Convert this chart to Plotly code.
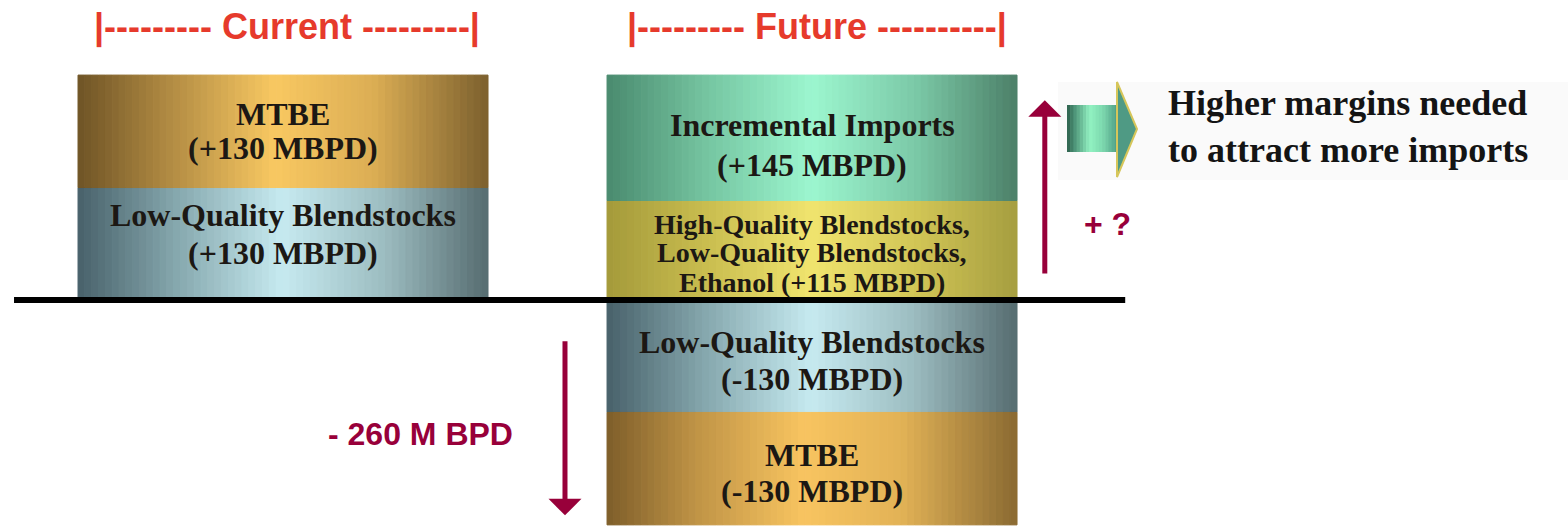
import plotly.graph_objects as go

# ---------------- data ----------------
categories = ["Current", "Future"]

# current supply, stacked upward from zero (bottom segment first)
current_values = [130, 130]
current_labels = ["Low-Quality Blendstocks<br>({:+d} MBPD)", "MTBE<br>({:+d} MBPD)"]
current_styles = ["lq", "mtbe"]

# future additions, stacked upward from zero
future_up_values = [115, 145]
future_up_labels = [
    "High-Quality Blendstocks,<br>Low-Quality Blendstocks,<br>Ethanol ({:+d} MBPD)",
    "Incremental Imports<br>({:+d} MBPD)",
]
future_up_styles = ["hq", "imports"]

# future losses, stacked downward from zero
future_down_values = [-130, -130]
future_down_labels = ["Low-Quality Blendstocks<br>({:+d} MBPD)", "MTBE<br>({:+d} MBPD)"]
future_down_styles = ["lq", "mtbe2"]

header_texts = ["|--------- Current ---------|", "|--------- Future ----------|"]
net_change_label = "- 260 M BPD"
gap_label = "+ ?"
note_text = "Higher margins needed<br>to attract more imports"

# ---------------- styling ----------------
W, H = 1568, 528
BAR_W = 0.775
N_STRIPS = 60
TEXT_DARK = "#1c1814"
MAROON = "#98003a"
HEADER_RED = "#e63a2c"

GRADIENTS = {
    "mtbe": [(0, "#6f5426"), (0.22, "#b08a42"), (0.48, "#f8c862"), (0.72, "#dcae54"), (1, "#7c602e")],
    "mtbe2": [(0, "#7e5e2a"), (0.22, "#c09446"), (0.48, "#f8c460"), (0.72, "#e2b256"), (1, "#8a6a32")],
    "lq": [(0, "#48616a"), (0.25, "#88aab0"), (0.5, "#c6eaf0"), (0.75, "#9cbcc0"), (1, "#566c70")],
    "imports": [(0, "#4a8a6e"), (0.25, "#76c6a2"), (0.5, "#9cf6cf"), (0.75, "#7ccaa8"), (1, "#4c8068")],
    "hq": [(0, "#a49a3a"), (0.25, "#cabe50"), (0.5, "#f0e46e"), (0.75, "#d2c656"), (1, "#a69e40")],
}

# per-line vertical offsets (px, downward) of segment labels from segment middle
LINE_OFFSETS = {
    ("Current", 0): [-29, 9],
    ("Current", 1): [-17, 17],
    ("Future", "up0"): [-26, 2.5, 32],
    ("Future", "up1"): [-13, 27],
    ("Future", "down0"): [-14.5, 23],
    ("Future", "down1"): [-14, 22.5],
}


def hex_to_rgb(h):
    h = h.lstrip("#")
    return tuple(int(h[i:i + 2], 16) for i in (0, 2, 4))


def interp(stops, t):
    for (p0, c0), (p1, c1) in zip(stops, stops[1:]):
        if p0 <= t <= p1:
            f = (t - p0) / (p1 - p0) if p1 > p0 else 0
            a, b = hex_to_rgb(c0), hex_to_rgb(c1)
            r = [round(a[i] + (b[i] - a[i]) * f) for i in range(3)]
            return "rgb({},{},{})".format(*r)
    return stops[-1][1]


def gradient_bar(cat, base, value, style):
    """One stacked segment drawn as thin vertical strips for a shaded fill."""
    stops = GRADIENTS[style]
    w = BAR_W / N_STRIPS
    offsets = [-BAR_W / 2 + i * w for i in range(N_STRIPS)]
    colors = [interp(stops, (i + 0.5) / N_STRIPS) for i in range(N_STRIPS)]
    return go.Bar(
        x=[cat] * N_STRIPS,
        y=[value] * N_STRIPS,
        base=[base] * N_STRIPS,
        offset=offsets,
        width=[w] * N_STRIPS,
        marker=dict(color=colors, line=dict(width=1, color=colors)),
        hoverinfo="skip",
        showlegend=False,
    )


fig = go.Figure()
annotations = []


def add_stack(cat, values, labels, styles, keys, font_sizes):
    base = 0
    for v, lab, st, key, fs in zip(values, labels, styles, keys, font_sizes):
        fig.add_trace(gradient_bar(cat, base, v, st))
        mid = base + v / 2
        lines = lab.format(v).split("<br>")
        for line, off in zip(lines, LINE_OFFSETS[key]):
            annotations.append(dict(
                x=cat, y=mid, xref="x", yref="y", yshift=-off,
                text="<b>" + line + "</b>", showarrow=False,
                xanchor="center", yanchor="middle",
                font=dict(family="Liberation Serif", size=fs, color=TEXT_DARK),
            ))
        base += v


add_stack("Current", current_values, current_labels, current_styles,
          [("Current", 0), ("Current", 1)], [32, 32])
add_stack("Future", future_up_values, future_up_labels, future_up_styles,
          [("Future", "up0"), ("Future", "up1")], [28, 32])
add_stack("Future", future_down_values, future_down_labels, future_down_styles,
          [("Future", "down0"), ("Future", "down1")], [32, 32])

# column headers
for cat, txt, dx in zip(categories, header_texts, [4, 5]):
    annotations.append(dict(
        x=cat, y=315.5, xref="x", yref="y", xshift=dx,
        text="<b>" + txt + "</b>", showarrow=False,
        xanchor="center", yanchor="middle",
        font=dict(family="Liberation Sans", size=36, color=HEADER_RED),
    ))

# change arrows
annotations.append(dict(
    x=1.440, y=231, ax=1.440, ay=29, xref="x", yref="y", axref="x", ayref="y",
    text="", showarrow=True, arrowhead=1, arrowsize=1.1, arrowwidth=5, arrowcolor=MAROON,
))
annotations.append(dict(
    x=0.533, y=-249, ax=0.533, ay=-46, xref="x", yref="y", axref="x", ayref="y",
    text="", showarrow=True, arrowhead=1, arrowsize=1.1, arrowwidth=5, arrowcolor=MAROON,
))
annotations.append(dict(
    x=1.558, y=88, xref="x", yref="y", text="<b>" + gap_label + "</b>", showarrow=False,
    xanchor="center", yanchor="middle",
    font=dict(family="Liberation Sans", size=32, color=MAROON),
))
annotations.append(dict(
    x=0.259, y=-155.5, xref="x", yref="y", text="<b>" + net_change_label + "</b>", showarrow=False,
    xanchor="center", yanchor="middle",
    font=dict(family="Liberation Sans", size=32, color=MAROON),
))

# note on the right
annotations.append(dict(
    x=1166 / W, y=1 - 126 / H, xref="paper", yref="paper",
    text="<b>" + note_text + "</b>", showarrow=False,
    xanchor="left", yanchor="middle", align="left",
    font=dict(family="Liberation Serif", size=36, color="#141414"),
))

shapes = []


def px(xp, yp):
    return xp / W, 1 - yp / H


# soft panel behind the note
x0, y0 = px(1058, 82)
x1, y1 = px(W, 180)
shapes.append(dict(type="rect", xref="paper", yref="paper", x0=x0, y0=y1, x1=x1, y1=y0,
                   fillcolor="#fafafa", line=dict(width=0), layer="below"))

# block arrow: shaded body + head
body_stops = [(0, "#2c5e4a"), (0.15, "#4e9478"), (0.45, "#92f2c2"), (0.7, "#7cd8ae"), (1, "#4e9c84")]
n_body = 16
bx0, bx1, by0, by1 = 1067, 1118, 105, 152
for i in range(n_body):
    xa = bx0 + (bx1 - bx0) * i / n_body
    xb = bx0 + (bx1 - bx0) * (i + 1) / n_body + 0.6
    pa, pb = px(xa, by0), px(xb, by1)
    shapes.append(dict(type="rect", xref="paper", yref="paper",
                       x0=pa[0], x1=pb[0], y0=pb[1], y1=pa[1],
                       fillcolor=interp(body_stops, (i + 0.5) / n_body), line=dict(width=0)))
h1, h2, h3 = px(1117, 82), px(1137, 129), px(1117, 177)
shapes.append(dict(
    type="path", xref="paper", yref="paper",
    path="M {} {} L {} {} L {} {} Z".format(h1[0], h1[1], h2[0], h2[1], h3[0], h3[1]),
    fillcolor="#4f9a84", line=dict(color="#d6c65a", width=2),
))

# zero line
shapes.append(dict(type="line", xref="x", yref="y", x0=-0.5085, x1=1.592, y0=0, y1=0,
                   line=dict(color="black", width=6), layer="above"))

fig.update_layout(
    width=W, height=H,
    margin=dict(l=0, r=0, t=0, b=0),
    paper_bgcolor="white", plot_bgcolor="white",
    barmode="overlay", showlegend=False,
    xaxis=dict(type="category", categoryorder="array", categoryarray=categories,
               range=[-0.535, 2.429], visible=False),
    yaxis=dict(range=[-263.6, 346.8], visible=False),
    annotations=annotations,
    shapes=shapes,
)

fig.write_html("out.html")
